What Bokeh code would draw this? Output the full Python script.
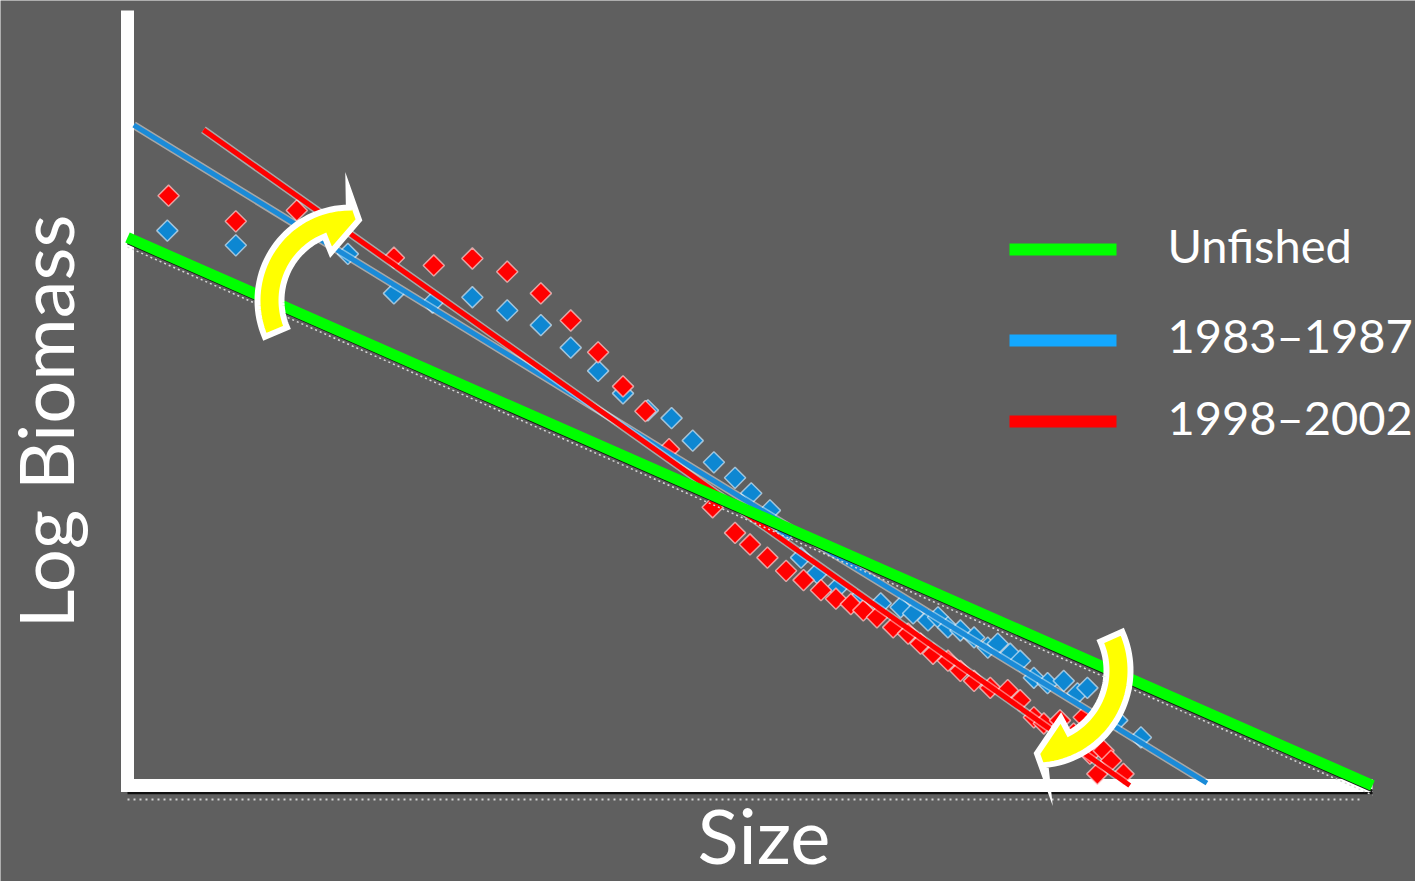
import numpy as np
from bokeh.plotting import figure
from bokeh.models import Range1d
from bokeh.core.properties import value
from bokeh.embed import file_html
from bokeh.resources import INLINE

# ---------------- data ----------------
x_label = "Size"
y_label = "Log Biomass"
series_labels = ["Unfished", "1983\u20131987", "1998\u20132002"]

# 1983-1987 size spectrum (blue diamonds)
blue_size = [3.2, 8.7, 17.7, 21.4, 24.5, 27.7, 30.5, 33.2, 35.6, 37.8,
             39.8, 41.8, 43.7, 45.4, 47.1, 48.8, 50.1, 51.6, 52.8, 54.1,
             55.4, 57.0, 58.6, 60.5, 62.1, 63.1, 64.3, 65.1, 65.9, 66.9,
             68.0, 69.1, 69.9, 70.9, 71.7, 72.8, 73.9, 75.2, 76.3, 77.1,
             79.5, 81.4]
blue_biomass = [71.6, 69.7, 68.6, 63.5, 62.3, 63.0, 61.3, 59.4, 56.5, 53.5,
                50.6, 48.4, 47.4, 44.5, 41.7, 39.7, 37.7, 35.5, 32.6, 29.4,
                27.4, 25.5, 23.9, 23.5, 23.0, 22.2, 21.3, 21.7, 20.4, 20.0,
                19.1, 17.8, 18.3, 17.0, 16.1, 13.9, 13.2, 13.5, 11.9, 12.6,
                8.4, 6.2]

# 1998-2002 size spectrum (red diamonds)
red_size = [3.3, 8.7, 13.6, 21.4, 24.6, 27.7, 30.5, 33.2, 35.6, 37.8,
            39.8, 41.6, 43.5, 47.0, 48.8, 50.0, 51.4, 52.9, 54.3, 55.7,
            56.9, 58.1, 59.1, 60.2, 61.5, 62.7, 63.7, 64.7, 65.9, 66.9,
            68.0, 69.3, 70.7, 71.7, 72.8, 73.6, 74.9, 76.0, 76.8, 77.3,
            78.4, 79.0, 77.9, 80.0]
red_biomass = [76.1, 72.8, 74.2, 68.1, 67.1, 68.0, 66.3, 63.5, 60.0, 55.9,
               51.5, 48.3, 43.4, 35.9, 32.6, 31.1, 29.4, 27.7, 26.5, 25.2,
               24.1, 23.4, 22.6, 21.7, 20.4, 19.6, 18.3, 17.0, 16.1, 14.8,
               13.5, 12.6, 12.3, 11.0, 8.8, 8.0, 8.4, 6.7, 8.8, 4.1,
               4.5, 3.2, 1.5, 1.5]

# fitted straight spectra (end points)
unfished_size = [0.0, 100.0]
unfished_biomass = [70.7, 0.0]
early_fit_size = [0.5, 86.7]
early_fit_biomass = [85.2, 0.3]
late_fit_size = [6.1, 80.5]
late_fit_biomass = [84.6, 0.0]

# axis extent in data units
axis_size_max = 100.0
axis_biomass_max = 100.0

# ---------------- layout ----------------
BG = "#5f5f5f"
W, H = 1415, 881
ORIGIN_SX, ORIGIN_SY = 127, 785   # page pixel of the data origin
SX, SY = 12.45, 7.75              # px per data unit

def dx(sx):
    return (sx - ORIGIN_SX) / SX

def dy(sy):
    return (ORIGIN_SY - sy) / SY

x_range = Range1d(dx(0), dx(W))
y_range = Range1d(dy(H), dy(0))

p = figure(width=W, height=H, x_range=x_range, y_range=y_range,
           output_backend="svg", toolbar_location=None,
           x_axis_location=None, y_axis_location=None, min_border=0)
p.grid.visible = False
p.outline_line_color = None
p.background_fill_color = BG
p.border_fill_color = BG

GREEN = "#00ff00"
BLUE_PT = "#0d87d2"
BLUE_LEG = "#14a8ff"
RED = "#ff0000"
FONT = value("Lato")
K_BASE = 0.4   # renderer baseline offset (fraction of font size)

# axes (white L shape) with shadow and dotted trim
p.line([0, axis_size_max], [dy(792.5), dy(792.5)], line_color="#111111", line_width=2.5)
p.line([0, axis_size_max - 1], [dy(799), dy(799)], line_color="#d0d0d0", line_width=2,
       line_dash="2 4")
p.line([0, 0, axis_size_max], [axis_biomass_max, 0, 0], line_color="white",
       line_width=13, line_join="miter", line_cap="butt")

# points
sq = np.pi / 4
p.scatter(blue_size, blue_biomass, marker="square", angle=sq, size=15,
          fill_color=BLUE_PT, line_color="#cfe6f7", line_alpha=0.7, line_width=1.5)
p.scatter(red_size, red_biomass, marker="square", angle=sq, size=15,
          fill_color=RED, line_color="#ffd0d0", line_alpha=0.7, line_width=1.5)

# fitted lines
p.line(early_fit_size, early_fit_biomass, line_color="white", line_alpha=0.45, line_width=8)
p.line(early_fit_size, early_fit_biomass, line_color="#1a8bd8", line_width=5)
p.line(late_fit_size, late_fit_biomass, line_color="white", line_alpha=0.45, line_width=8)
p.line(late_fit_size, late_fit_biomass, line_color=RED, line_width=5)

# unfished line with drop shadow
off1 = 5.5 / SY
off2 = 9.5 / SY
p.line(unfished_size, [b - off1 for b in unfished_biomass], line_color="#151515", line_width=2.5)
p.line(unfished_size, [b - off2 for b in unfished_biomass], line_color="#d8d8d8",
       line_width=1.5, line_dash="2 3")
p.line(unfished_size, unfished_biomass, line_color=GREEN, line_width=11)

# curved yellow arrows
def curved_arrow(c_sx, c_sy, r, a_tail, a_in, a_out, a_tip, w=24, hw=29, n=40):
    cx, cy = dx(c_sx), dy(c_sy)
    def pt(rad, ang):
        a = np.deg2rad(ang)
        return cx + rad * np.cos(a) / SX, cy + rad * np.sin(a) / SY
    xs, ys = [], []
    for ang in np.linspace(a_tail, a_out, n):
        x, y = pt(r + w / 2, ang); xs.append(x); ys.append(y)
    for rad, ang in [(r + hw, a_out), (r, a_tip), (r - hw, a_in)]:
        x, y = pt(rad, ang); xs.append(x); ys.append(y)
    for ang in np.linspace(a_in, a_tail, n):
        x, y = pt(r - w / 2, ang); xs.append(x); ys.append(y)
    return xs, ys

for args in [(350, 300, 81, 203, 112, 91, 84), (1035, 670, 83, 24, -62, -84, -89)]:
    ax, ay = curved_arrow(*args)
    p.patch(ax, ay, fill_color="#ffff00", line_color="white", line_width=6,
            line_join="miter")

# legend (manual, to match spacing)
leg_colors = [GREEN, BLUE_LEG, RED]
leg_y = [249, 340, 421]
leg_base = [263, 353, 435]
LEG_FS = 47
p.segment(x0=[dx(1009)] * 3, x1=[dx(1116)] * 3,
          y0=[dy(v) for v in leg_y], y1=[dy(v) for v in leg_y],
          line_color=leg_colors, line_width=12, line_cap="butt")
p.text(x=[dx(1167)] * 3, y=[dy(v - K_BASE * LEG_FS) for v in leg_base], text=series_labels,
       text_color="white", text_font=FONT, text_font_size=f"{LEG_FS}px",
       text_baseline="alphabetic", text_align="left")

# axis titles
AX_FS = 76
p.text(x=[dx(697)], y=[dy(864 - K_BASE * AX_FS)], text=[x_label], text_color="white",
       text_font=FONT, text_font_size=f"{AX_FS}px",
       text_baseline="alphabetic", text_align="left")
p.text(x=[dx(74 - K_BASE * AX_FS)], y=[dy(628)], text=[y_label], angle=np.pi / 2,
       text_color="white", text_font=FONT, text_font_size=f"{AX_FS}px",
       text_baseline="alphabetic", text_align="left")

open("out.html", "w").write(file_html(p, INLINE))
